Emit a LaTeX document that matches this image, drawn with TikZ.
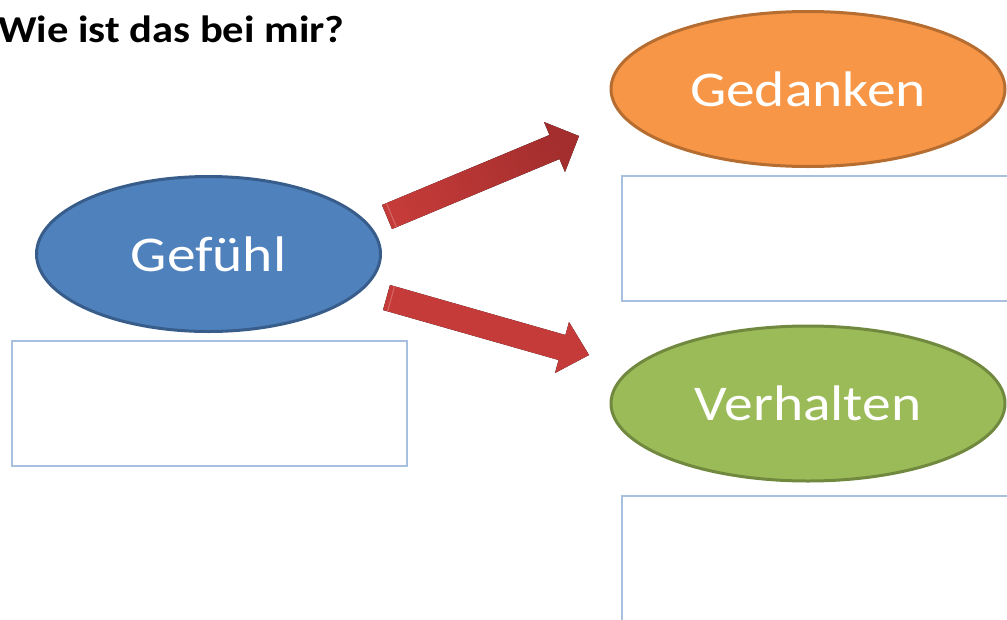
\documentclass[tikz,border=0pt]{standalone}
\usepackage{fontspec}
\setmainfont{Carlito}
\usepackage{graphicx}
\usetikzlibrary{shapes.geometric}
\definecolor{gefFill}{HTML}{4F81BD}
\definecolor{gefLine}{HTML}{385D8A}
\definecolor{gedFill}{HTML}{F79646}
\definecolor{gedLine}{HTML}{B66D31}
\definecolor{verFill}{HTML}{9BBB59}
\definecolor{verLine}{HTML}{71893F}
\definecolor{boxLine}{HTML}{A7C0E0}
\definecolor{arrDark}{HTML}{A32E2D}
\definecolor{arrMid}{HTML}{CD3E3C}
\definecolor{arrLight}{HTML}{C43B39}
\definecolor{arrStripe}{HTML}{DA6D6B}
\newcommand\hstretch[1]{\scalebox{1.12}[1]{#1}}
\newcommand\estretch[1]{\scalebox{1.15}[1]{#1}}
\begin{document}
\begin{tikzpicture}[x=1pt,y=-1pt,
  ell/.style={ellipse, draw, line width=3pt, inner sep=0pt,
    minimum width=#1, minimum height=155pt, text=white,
    font=\fontsize{50}{56}\selectfont},
  ell/.default=344pt,
  answerbox/.style={draw=boxLine, line width=2pt, fill=white, anchor=north west, inner sep=0pt},
  titletext/.style={anchor=base west, inner sep=0pt, font=\fontsize{38}{44}\selectfont\bfseries},
  stripe/.style={draw=arrStripe, line width=1.2pt, opacity=0.8}]
\useasboundingbox (0,0) rectangle (1007,619);
\clip (0,0) rectangle (1007,619);

% title
\node[titletext] (title) at (-2,42) {\hstretch{Wie ist das bei mir?}};

% answer boxes
\node[answerbox, minimum width=395pt, minimum height=125pt] (gefbox) at (11,340) {};
\node[answerbox, minimum width=420pt, minimum height=125pt] (gedbox) at (621,175) {};
\node[answerbox, minimum width=420pt, minimum height=200pt] (verbox) at (621,495) {};

% ellipses
\node[ell, fill=gefFill, draw=gefLine] (gef) at (208.5,254) {\estretch{Gefühl}};
\node[ell=394pt, fill=gedFill, draw=gedLine] (ged) at (808,89) {\estretch{Gedanken}};
\node[ell=394pt, fill=verFill, draw=verLine] (ver) at (808,403.5) {\estretch{Verhalten}};

% upper block arrow (Gefühl -> Gedanken)
\coordinate (uA1) at (382,205);
\coordinate (uS1) at (549.5,135);
\coordinate (uB1) at (544,122);
\coordinate (uT)  at (579,136);
\coordinate (uB2) at (565,172);
\coordinate (uS2) at (559.5,159);
\coordinate (uA2) at (392,229);
\fill[top color=arrDark, middle color=arrMid, bottom color=arrLight, shading angle=-67]
  (uA1) -- (uS1) -- (uB1) -- (uT) -- (uB2) -- (uS2) -- (uA2) -- cycle;
\coordinate (uL1) at (386.6,203.6);
\coordinate (uL2) at (396.6,227.4);
\draw[stripe] (uL1) -- (uL2);

% lower block arrow (Gefühl -> Verhalten)
\coordinate (lA1) at (390,285);
\coordinate (lS1) at (565.4,335);
\coordinate (lB1) at (569,322);
\coordinate (lT)  at (589,355);
\coordinate (lB2) at (555,373);
\coordinate (lS2) at (558.6,360);
\coordinate (lA2) at (383,310);
\fill[top color=arrLight, middle color=arrDark, bottom color=arrLight, shading angle=-16]
  (lA1) -- (lS1) -- (lB1) -- (lT) -- (lB2) -- (lS2) -- (lA2) -- cycle;
\coordinate (lL1) at (394.5,286.5);
\coordinate (lL2) at (387.5,311.5);
\draw[stripe] (lL1) -- (lL2);
\end{tikzpicture}
\end{document}
